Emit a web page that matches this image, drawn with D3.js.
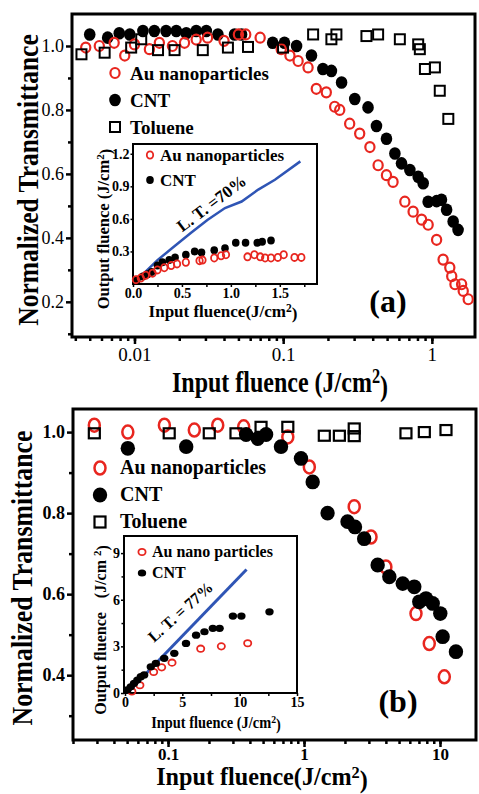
<!DOCTYPE html>
<html>
<head>
<meta charset="utf-8">
<script src="https://cdn.jsdelivr.net/npm/d3@7/dist/d3.min.js"></script>
<style>
	body { margin: 0; background: #fff; }
	svg text { font-family: "Liberation Serif", "Times New Roman", serif; fill: #000; }
</style>
</head>
<body>
<svg id="chart" width="479" height="794"></svg>
<script>
// panel (a): [input fluence (J/cm2), normalized transmittance]
var auA = [[0.0047,0.995],[0.0058,1.0],[0.0073,1.01],[0.0086,0.97],[0.010,1.005],[0.0126,0.99],
	[0.0147,1.01],[0.018,1.0],[0.0217,1.01],[0.026,1.02],[0.031,1.026],[0.040,1.016],[0.050,1.036],
	[0.056,1.036],[0.070,1.026],[0.097,0.99],[0.111,0.97],[0.126,0.953],[0.147,0.933],[0.167,0.866],
	[0.195,0.855],[0.222,0.81],[0.24,0.80],[0.28,0.757],[0.327,0.726],[0.383,0.684],[0.435,0.627],
	[0.495,0.596],[0.548,0.575],[0.658,0.513],[0.748,0.482],[0.853,0.457],[0.944,0.441],[1.076,0.394],
	[1.19,0.332],[1.32,0.307],[1.36,0.28],[1.43,0.255],[1.585,0.255],[1.625,0.234],[1.755,0.208]];
var cntA = [[0.0050,1.036],[0.0066,1.026],[0.0079,1.04],[0.0093,1.036],[0.0114,1.047],[0.0136,1.047],
	[0.0163,1.047],[0.0191,1.047],[0.0223,1.04],[0.026,1.047],[0.0304,1.047],[0.0364,1.036],[0.0471,1.036],
	[0.0525,1.036],[0.085,1.01],[0.102,1.01],[0.123,1.0],[0.155,0.97],[0.185,0.928],[0.211,0.922],
	[0.247,0.886],[0.303,0.834],[0.372,0.808],[0.424,0.75],[0.495,0.71],[0.564,0.664],[0.625,0.633],
	[0.711,0.612],[0.809,0.591],[0.874,0.571],[0.944,0.513],[1.076,0.515],[1.16,0.519],[1.256,0.488],
	[1.39,0.451],[1.50,0.425]];
var tolA = [[0.0044,0.974],[0.0063,0.979],[0.0095,0.995],[0.0111,1.021],[0.0144,0.987],[0.0186,0.987],
	[0.0288,0.987],[0.0425,0.995],[0.058,0.997],[0.0998,0.995],[0.159,1.036],[0.211,1.021],[0.228,1.036],
	[0.363,1.031],[0.435,1.036],[0.609,1.021],[0.809,1.005],[0.83,0.99],[0.898,0.928],[1.048,0.933],
	[1.13,0.86],[1.29,0.772]];

// inset (a): [input fluence, output fluence]
var auInA = [[0.03,0.04],[0.08,0.055],[0.13,0.08],[0.20,0.10],[0.25,0.13],[0.32,0.15],[0.39,0.17],
	[0.45,0.185],[0.54,0.20],[0.68,0.215],[0.71,0.22],[0.83,0.24],[0.90,0.26],[0.95,0.27],[1.17,0.25],
	[1.24,0.27],[1.30,0.25],[1.35,0.24],[1.41,0.24],[1.48,0.245],[1.54,0.27],[1.65,0.245],[1.72,0.245]];
var cntInA = [[0.04,0.04],[0.10,0.07],[0.15,0.09],[0.19,0.11],[0.25,0.17],[0.30,0.20],[0.37,0.22],
	[0.43,0.245],[0.54,0.27],[0.63,0.30],[0.70,0.29],[0.83,0.31],[0.94,0.33],[1.05,0.38],[1.15,0.38],
	[1.27,0.38],[1.32,0.39],[1.41,0.40]];
var ltInA = [[0.01,0.01],[0.25,0.22],[0.42,0.345],[0.59,0.47],[0.76,0.59],[0.94,0.70],[1.11,0.76],
	[1.28,0.87],[1.45,0.96],[1.71,1.13]];

// panel (b)
var auB = [[0.0287,1.017],[0.0506,1.0],[0.094,1.017],[0.156,1.005],[0.232,1.017],[0.36,1.013],
	[0.76,0.988],[1.094,0.914],[2.34,0.816],[3.11,0.741],[4.0,0.667],[6.66,0.552],[8.34,0.478],[10.76,0.396]];
var cntB = [[0.0506,0.96],[0.136,0.964],[0.375,0.994],[0.457,0.984],[0.526,0.994],[0.677,0.964],
	[0.95,0.935],[1.158,0.877],[1.49,0.80],[2.09,0.779],[2.37,0.766],[2.77,0.737],[3.48,0.672],
	[4.24,0.643],[5.32,0.626],[6.47,0.618],[7.04,0.581],[7.89,0.589],[8.84,0.577],[10.05,0.552],
	[10.46,0.495],[13.1,0.458]];
var tolB = [[0.0287,0.997],[0.102,0.997],[0.201,0.997],[0.316,0.997],[0.483,1.013],[0.76,1.013],
	[1.41,0.991],[1.82,0.991],[2.34,1.009],[2.34,0.99],[5.62,0.997],[7.67,1.0],[11.07,1.005]];

// inset (b)
var auInB = [[0.6,0.1],[1.3,0.5],[2.5,1.35],[3.2,1.65],[4.1,1.95],[6.6,2.85],[8.4,3.0],[10.7,3.2]];
var cntInB = [[0.2,0.2],[0.5,0.4],[0.79,0.62],[1.08,0.83],[1.38,1.05],[1.67,1.16],[2.25,1.69],
	[2.69,1.9],[3.42,2.23],[4.3,2.55],[5.32,3.19],[6.2,3.72],[6.93,3.94],[7.66,4.16],[8.25,4.16],
	[9.41,4.95],[10.15,4.95],[12.6,5.22]];
var ltInB = [[0.2,0],[10.6,7.95]];

// tick labels
var xTicksA = [0.01, 0.1, 1];
var yTicksA = [0.2, 0.4, 0.6, 0.8, 1.0];
var yMinorA = [0.1, 0.3, 0.5, 0.7, 0.9];
var xTicksB = [0.1, 1, 10];
var yTicksB = [0.4, 0.6, 0.8, 1.0];
var yMinorB = [0.3, 0.5, 0.7, 0.9];
var xTicksInA = [0, 0.5, 1.0, 1.5];
var xMinorInA = [0.25, 0.75, 1.25, 1.75];
var yTicksInA = [0.3, 0.6, 0.9, 1.2];
var xTicksInB = [0, 5, 10, 15];
var xMinorInB = [2.5, 7.5, 12.5];
var yTicksInB = [0, 3, 6, 9];
var yMinorInB = [1.5, 4.5, 7.5];

var namesMain = ["Au nanoparticles", "CNT", "Toluene"];
var namesInA = ["Au nanoparticles", "CNT"];
var namesInB = ["Au nano particles", "CNT"];

var RED = "#e8261f";
var BLUE = "#2f55b5";

var fig = {
	frame : function (g, x0, y0, x1, y1, w)
	{
		g.append("rect")
		.attr("x", x0).attr("y", y0)
		.attr("width", x1-x0).attr("height", y1-y0)
		.attr("fill", "#fff")
		.attr("stroke", "#000")
		.attr("stroke-width", w);
	},

	axis : function (g, side, scale, pos, minors, majors, o)
	{
		var mk = side == "bottom" ? d3.axisBottom : d3.axisLeft;
		var tr = side == "bottom" ? "translate(0,"+pos+")" : "translate("+pos+",0)";

		if (minors.length) {
			var mi = g.append("g")
			.attr("transform", tr)
			.call(mk(scale).tickValues(minors).tickSize(o.minor).tickFormat(""));
			mi.select(".domain").remove();
			mi.selectAll("line").attr("stroke-width", o.sw);
		}

		var ax = g.append("g")
		.attr("transform", tr)
		.call(mk(scale).tickValues(majors).tickSize(o.major).tickPadding(o.pad).tickFormat(o.fmt));
		ax.select(".domain").remove();
		ax.selectAll("line").attr("stroke-width", o.sw);
		ax.selectAll("text")
		.style("font-family", "'Liberation Serif', serif")
		.style("font-size", o.size+"px")
		.style("font-weight", o.bold ? "bold" : "normal");
	},

	openCircles : function (g, data, x, y, rx, ry, sw)
	{
		g.append("g").selectAll("ellipse")
		.data(data)
		.enter().append("ellipse")
		.attr("cx", function (d) { return x(d[0]); })
		.attr("cy", function (d) { return y(d[1]); })
		.attr("rx", rx).attr("ry", ry)
		.attr("fill", "none")
		.attr("stroke", RED)
		.attr("stroke-width", sw);
	},

	dots : function (g, data, x, y, rx, ry)
	{
		g.append("g").selectAll("ellipse")
		.data(data)
		.enter().append("ellipse")
		.attr("cx", function (d) { return x(d[0]); })
		.attr("cy", function (d) { return y(d[1]); })
		.attr("rx", rx).attr("ry", ry)
		.attr("fill", "#000");
	},

	squares : function (g, data, x, y, w, h, sw)
	{
		g.append("g").selectAll("rect")
		.data(data)
		.enter().append("rect")
		.attr("x", function (d) { return x(d[0]) - w/2; })
		.attr("y", function (d) { return y(d[1]) - h/2; })
		.attr("width", w).attr("height", h)
		.attr("fill", "none")
		.attr("stroke", "#000")
		.attr("stroke-width", sw);
	},

	line : function (g, data, x, y, w)
	{
		g.append("path")
		.datum(data)
		.attr("fill", "none")
		.attr("stroke", BLUE)
		.attr("stroke-width", w)
		.attr("d", d3.line()
			.x(function (d) { return x(d[0]); })
			.y(function (d) { return y(d[1]); }));
	},

	// text with a "2" superscript inside "(J/cm2)"
	fluenceText : function (g, pre, tr, size, anchor)
	{
		var t = g.append("text")
		.attr("transform", tr)
		.attr("text-anchor", anchor || "middle")
		.style("font-size", size+"px")
		.style("font-weight", "bold");
		t.append("tspan").text(pre);
		t.append("tspan").attr("dy", "-0.42em").style("font-size", "0.68em").text("2");
		t.append("tspan").attr("dy", "0.42em").text(")");
		return t;
	},

	legend : function (g, names, x0, y0, gap, tx, dy, size, m)
	{
		var self = this;
		var ident = function (v) { return v; };
		names.forEach(function (name, i) {
			var cy = y0 + i*gap;
			if (i == 0) {
				self.openCircles(g, [[x0, cy]], ident, ident, m.rx, m.ry, m.sw);
			} else if (i == 1) {
				self.dots(g, [[x0, cy]], ident, ident, m.dx, m.dy);
			} else {
				self.squares(g, [[x0, cy]], ident, ident, m.sq, m.sq, m.ssw);
			}
			g.append("text")
			.attr("x", tx)
			.attr("y", cy + dy)
			.style("font-size", size+"px")
			.style("font-weight", "bold")
			.text(name);
		});
	},

	drawPanelA : function ()
	{
		var g = this.svg.append("g").classed("panel-a", true);
		var x = d3.scaleLog().domain([0.0038, 1.95]).range([72, 475]);
		var y = d3.scaleLinear().domain([0.09, 1.1]).range([337, 14]);

		this.frame(g, 72, 14, 475, 337, 3);
		this.axis(g, "bottom", x, 337, x.ticks(), xTicksA,
			{minor: 4, major: 7, pad: 4, sw: 2.5, size: 19, bold: false, fmt: function (d) { return String(d); }});
		this.axis(g, "left", y, 72, yMinorA, yTicksA,
			{minor: 4, major: 6, pad: 2, sw: 2.5, size: 18, bold: false, fmt: d3.format(".1f")});

		var m = {rx: 4.6, ry: 5, sw: 2.2, dx: 5.8, dy: 6.3, sq: 10, ssw: 2};
		this.dots(g, cntA, x, y, m.dx, m.dy);
		this.openCircles(g, auA, x, y, m.rx, m.ry, m.sw);
		this.squares(g, tolA, x, y, m.sq, m.sq, m.ssw);
		this.legend(g, namesMain, 115, 73, 27, 130, 7, 19, m);

		g.append("text")
		.attr("x", 388).attr("y", 312)
		.attr("text-anchor", "middle")
		.style("font-size", "32px").style("font-weight", "bold")
		.text("(a)");

		g.append("text")
		.attr("transform", "translate(38,180) rotate(-90) scale(0.85,1)")
		.attr("text-anchor", "middle")
		.style("font-size", "30px").style("font-weight", "bold")
		.text("Normalized Transmittance");
		this.fluenceText(g, "Input fluence (J/cm", "translate(280,392) scale(0.8,1)", 30);

		this.drawInsetA(g);
	},

	drawInsetA : function (p)
	{
		var g = p.append("g").classed("inset-a", true);
		var x = d3.scaleLinear().domain([0, 1.88]).range([133, 317]);
		var y = d3.scaleLinear().domain([0, 1.29]).range([284, 144]);

		this.frame(g, 133, 144, 317, 284, 2);
		this.axis(g, "bottom", x, 284, xMinorInA, xTicksInA,
			{minor: 3, major: 3, pad: 1, sw: 1.5, size: 14, bold: true, fmt: d3.format(".1f")});
		this.axis(g, "left", y, 133, [], yTicksInA,
			{minor: 3, major: 2.5, pad: 1, sw: 1.5, size: 14, bold: true, fmt: d3.format(".1f")});

		var m = {rx: 3.2, ry: 3.6, sw: 1.8, dx: 3.8, dy: 4};
		this.line(g, ltInA, x, y, 2.5);
		this.dots(g, cntInA, x, y, m.dx, m.dy);
		this.openCircles(g, auInA, x, y, m.rx, m.ry, m.sw);
		this.legend(g, namesInA, 150, 155, 25, 160, 6, 17, m);

		g.append("text")
		.attr("transform", "translate(215,208) rotate(-37)")
		.attr("text-anchor", "middle")
		.style("font-size", "17px").style("font-weight", "bold")
		.text("L. T. =70%");

		this.fluenceText(g, "Output fluence (J/cm", "translate(109,229) rotate(-90)", 16.5);
		this.fluenceText(g, "Input fluence(J/cm", "translate(223,317)", 17);
	},

	drawPanelB : function ()
	{
		var g = this.svg.append("g").classed("panel-b", true);
		var x = d3.scaleLog().domain([0.02, 18.4]).range([73, 476]);
		var y = d3.scaleLinear().domain([0.24, 1.057]).range([740, 409]);

		this.frame(g, 73, 409, 476, 740, 3);
		this.axis(g, "bottom", x, 740, x.ticks(), xTicksB,
			{minor: 4, major: 7, pad: 1, sw: 2.5, size: 17, bold: true, fmt: function (d) { return String(d); }});
		this.axis(g, "left", y, 73, yMinorB, yTicksB,
			{minor: 4, major: 6, pad: 2, sw: 2.5, size: 18, bold: true, fmt: d3.format(".1f")});

		var m = {rx: 5.5, ry: 6.5, sw: 2.5, dx: 7.2, dy: 7.4, sq: 11, ssw: 2.2};
		this.openCircles(g, auB, x, y, m.rx, m.ry, m.sw);
		this.dots(g, cntB, x, y, m.dx, m.dy);
		this.squares(g, tolB, x, y, m.sq, m.sq - 1, m.ssw);
		this.legend(g, namesMain, 100, 468, 27, 120, 6, 20, m);

		g.append("text")
		.attr("x", 398).attr("y", 712)
		.attr("text-anchor", "middle")
		.style("font-size", "32px").style("font-weight", "bold")
		.text("(b)");

		g.append("text")
		.attr("transform", "translate(32,578) rotate(-90) scale(0.86,1)")
		.attr("text-anchor", "middle")
		.style("font-size", "30px").style("font-weight", "bold")
		.text("Normalized Transmittance");
		this.fluenceText(g, "Input fluence(J/cm", "translate(262,785) scale(0.93,1)", 26);

		this.drawInsetB(g);
	},

	drawInsetB : function (p)
	{
		var g = p.append("g").classed("inset-b", true);
		var x = d3.scaleLinear().domain([0, 15]).range([125, 297]);
		var y = d3.scaleLinear().domain([0, 10.1]).range([693, 536]);

		this.frame(g, 124, 536, 297, 693, 2);
		this.axis(g, "bottom", x, 693, xMinorInB, xTicksInB,
			{minor: 3, major: 3, pad: 1, sw: 1.5, size: 14, bold: true, fmt: d3.format("d")});
		this.axis(g, "left", y, 124, yMinorInB, yTicksInB,
			{minor: 2.5, major: 3, pad: 1, sw: 1.5, size: 14, bold: true, fmt: d3.format("d")});

		var m = {rx: 3.6, ry: 3.2, sw: 1.8, dx: 4.2, dy: 3.6};
		this.line(g, ltInB, x, y, 3);
		this.openCircles(g, auInB, x, y, m.rx, m.ry, m.sw);
		this.dots(g, cntInB, x, y, m.dx, m.dy);
		this.legend(g, namesInB, 142, 552, 21, 152, 5, 16, m);

		g.append("text")
		.attr("transform", "translate(184,616) rotate(-42)")
		.attr("text-anchor", "middle")
		.style("font-size", "16px").style("font-weight", "bold")
		.text("L. T. = 77%");

		var t = this.fluenceText(g, "Output fluence", "translate(106,630) rotate(-90)", 16);
		t.select("tspan").text("Output fluence").attr("dx", null);
		t.insert("tspan", "tspan:nth-child(2)").attr("dx", 14).text("(J/cm ");
		this.fluenceText(g, "Input fluence (J/cm", "translate(216,728) scale(0.9,1)", 16);
	},

	init : function ()
	{
		this.svg = d3.select("svg#chart");
		this.drawPanelA();
		this.drawPanelB();
	}
};

fig.init();
</script>
</body>
</html>
